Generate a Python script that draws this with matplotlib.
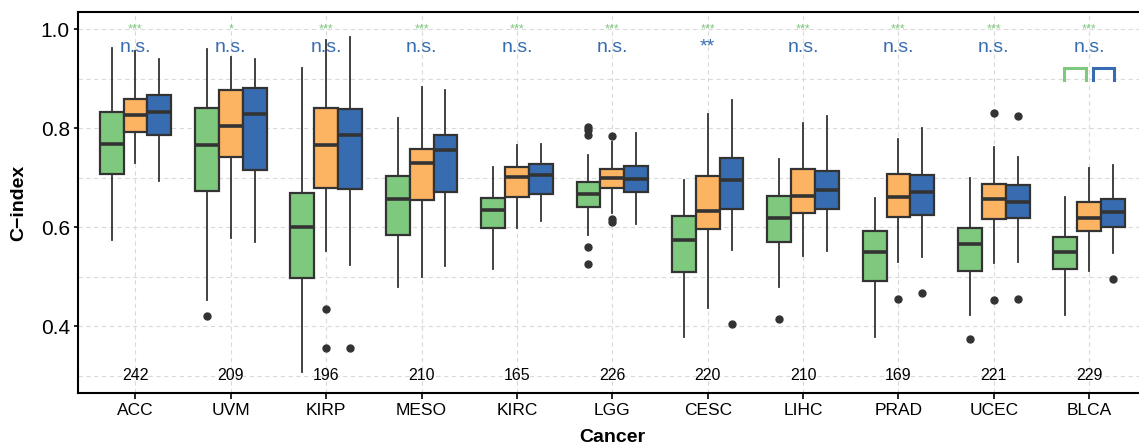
import numpy as np
import matplotlib.pyplot as plt

plt.rcParams['font.family'] = ['Liberation Sans', 'DejaVu Sans']

categories = ["ACC", "UVM", "KIRP", "MESO", "KIRC", "LGG", "CESC", "LIHC", "PRAD", "UCEC", "BLCA"]
counts = [242, 209, 196, 210, 165, 226, 220, 210, 169, 221, 229]
green_sig = ["***", "*", "***", "***", "***", "***", "***", "***", "***", "***", "***"]
blue_sig = ["n.s.", "n.s.", "n.s.", "n.s.", "n.s.", "n.s.", "**", "n.s.", "n.s.", "n.s.", "n.s."]

# (lower whisker, Q1, median, Q3, upper whisker)
green_box = [(0.575, 0.707, 0.769, 0.832, 0.961),
             (0.454, 0.674, 0.765, 0.841, 0.959),
             (0.307, 0.497, 0.600, 0.670, 0.921),
             (0.479, 0.584, 0.656, 0.703, 0.821),
             (0.515, 0.598, 0.635, 0.658, 0.721),
             (0.584, 0.641, 0.668, 0.692, 0.745),
             (0.379, 0.509, 0.575, 0.623, 0.695),
             (0.479, 0.570, 0.618, 0.663, 0.738),
             (0.378, 0.491, 0.549, 0.592, 0.660),
             (0.423, 0.512, 0.567, 0.598, 0.700),
             (0.423, 0.516, 0.549, 0.580, 0.662)]
orange_box = [(0.729, 0.793, 0.826, 0.859, 0.956),
              (0.579, 0.741, 0.805, 0.876, 0.944),
              (0.553, 0.680, 0.765, 0.840, 0.978),
              (0.500, 0.655, 0.729, 0.758, 0.884),
              (0.598, 0.662, 0.701, 0.722, 0.766),
              (0.628, 0.680, 0.699, 0.718, 0.773),
              (0.436, 0.596, 0.633, 0.704, 0.828),
              (0.541, 0.628, 0.663, 0.718, 0.811),
              (0.530, 0.621, 0.661, 0.707, 0.779),
              (0.527, 0.616, 0.656, 0.688, 0.762),
              (0.512, 0.592, 0.619, 0.650, 0.719)]
blue_box = [(0.693, 0.787, 0.833, 0.867, 0.939),
            (0.571, 0.715, 0.829, 0.882, 0.939),
            (0.523, 0.678, 0.787, 0.838, 0.983),
            (0.522, 0.672, 0.755, 0.787, 0.878),
            (0.613, 0.667, 0.706, 0.728, 0.769),
            (0.606, 0.672, 0.697, 0.724, 0.791),
            (0.554, 0.637, 0.695, 0.739, 0.857),
            (0.553, 0.637, 0.676, 0.714, 0.824),
            (0.540, 0.625, 0.671, 0.706, 0.801),
            (0.529, 0.618, 0.650, 0.686, 0.742),
            (0.547, 0.600, 0.631, 0.656, 0.726)]

green_out = [[], [0.421], [], [], [], [0.802, 0.796, 0.787, 0.561, 0.526], [], [0.414], [], [0.374], []]
orange_out = [[], [], [0.435, 0.357], [], [], [0.785, 0.616, 0.610], [], [], [0.456], [0.830, 0.454], []]
blue_out = [[], [], [0.357], [], [], [], [0.405], [], [0.468], [0.824, 0.456], [0.495]]

series = [("green", green_box, green_out, "#7FC97F", -0.25),
          ("orange", orange_box, orange_out, "#FDB462", 0.0),
          ("blue", blue_box, blue_out, "#386CB0", 0.25)]

fig = plt.figure(figsize=(11.39, 4.45), dpi=100)
ax = fig.add_axes([0.0687, 0.1162, 0.9378, 0.856])

x = np.arange(len(categories))
for name, boxes, outs, color, off in series:
    stats = []
    for b, o in zip(boxes, outs):
        stats.append(dict(whislo=b[0], q1=b[1], med=b[2], q3=b[3], whishi=b[4], fliers=o))
    ax.bxp(stats, positions=x + off, widths=0.25, patch_artist=True, showcaps=False,
           boxprops=dict(facecolor=color, edgecolor="#333333", linewidth=1.6),
           medianprops=dict(color="#333333", linewidth=2.6),
           whiskerprops=dict(color="#333333", linewidth=1.3),
           flierprops=dict(marker="o", markerfacecolor="#333333", markeredgecolor="#333333",
                           markersize=5),
           manage_ticks=False, zorder=3)

for i in x:
    ax.text(i, 0.3, str(counts[i]), ha="center", va="center", fontsize=11.5)
    ax.text(i, 0.993, green_sig[i], ha="center", va="baseline", fontsize=9, color="#7FC97F")
    ax.text(i, 0.954, blue_sig[i], ha="center", va="baseline", fontsize=14, color="#386CB0")

# bracket marks above the last group
last = len(categories) - 1
ax.plot([last - 0.262, last - 0.262, last - 0.038, last - 0.038], [0.897, 0.921, 0.921, 0.897],
        color="#7FC97F", linewidth=2.2, solid_joinstyle="miter", zorder=4)
ax.plot([last + 0.038, last + 0.038, last + 0.262, last + 0.262], [0.897, 0.921, 0.921, 0.897],
        color="#386CB0", linewidth=2.2, solid_joinstyle="miter", zorder=4)

ax.set_xlim(-0.6, len(categories) - 0.4)
ax.set_ylim(0.2648, 1.0337)
ax.set_xticks(x)
ax.set_xticklabels(categories, fontsize=12.5)
ax.set_yticks([0.4, 0.6, 0.8, 1.0])
ax.set_yticks([0.3, 0.5, 0.7, 0.9], minor=True)
ax.set_yticklabels(["0.4", "0.6", "0.8", "1.0"], fontsize=15)
ax.tick_params(axis="x", length=4, width=1.2, pad=3)
ax.tick_params(axis="y", which="major", length=3, width=1.2, pad=3)
ax.tick_params(axis="y", which="minor", length=0)
ax.grid(True, which="both", axis="y", color="#DADADA", linestyle=(0, (4, 3)), linewidth=0.8)
ax.grid(True, axis="x", color="#DADADA", linestyle=(0, (4, 3)), linewidth=0.8)
ax.set_axisbelow(True)
for s in ax.spines.values():
    s.set_linewidth(1.5)
    s.set_color("black")

ax.set_xlabel("Cancer", fontsize=14, fontweight="bold", labelpad=8)
ax.set_ylabel("C\u2212index", fontsize=14, fontweight="bold", labelpad=10)

fig.savefig("out.png", dpi=100)
